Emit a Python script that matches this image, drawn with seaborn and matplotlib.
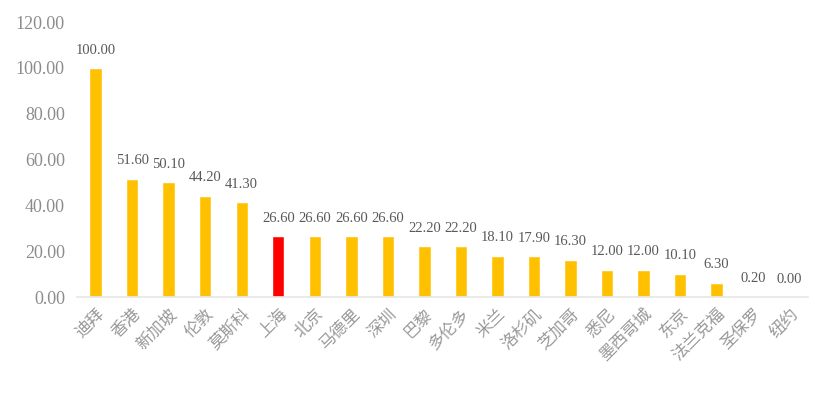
import seaborn as sns
import matplotlib.pyplot as plt
import pandas as pd

cities = ['迪拜', '香港', '新加坡', '伦敦', '莫斯科', '上海', '北京', '马德里', '深圳', '巴黎',
          '多伦多', '米兰', '洛杉矶', '芝加哥', '悉尼', '墨西哥城', '东京', '法兰克福', '圣保罗', '纽约']
scores = [100.00, 51.60, 50.10, 44.20, 41.30, 26.60, 26.60, 26.60, 26.60, 22.20,
          22.20, 18.10, 17.90, 16.30, 12.00, 12.00, 10.10, 6.30, 0.20, 0.00]
highlight = '上海'

df = pd.DataFrame({'city': cities, 'score': scores})
colors = ['#FF0000' if c == highlight else '#FFC000' for c in cities]

sns.set_style('white')
fig = plt.figure(figsize=(8.32, 3.96), dpi=100)
ax = fig.add_axes([0.093, 0.25, 0.878, 0.694])

sns.barplot(data=df, x='city', y='score', hue='city', palette=colors, legend=False,
            width=0.34, ax=ax, saturation=1)

ax.set_ylim(0, 120)
ax.set_yticks(range(0, 121, 20))
ax.set_yticklabels([f'{v:.2f}' for v in range(0, 121, 20)],
                   fontfamily='Liberation Serif', fontsize=13, color='#8c8c8c')
ax.set_xticks(range(len(cities)))
ax.set_xticklabels(cities, rotation=45, ha='right', rotation_mode='anchor',
                   fontfamily='Noto Sans CJK SC', fontweight='light',
                   fontsize=12, color='#999999')
ax.tick_params(axis='both', length=0)
ax.tick_params(axis='y', pad=9)
ax.tick_params(axis='x', pad=6)
ax.set_xlabel('')
ax.set_ylabel('')

for s in ['top', 'right', 'left']:
    ax.spines[s].set_visible(False)
ax.spines['bottom'].set_color('#e6e6e6')
ax.spines['bottom'].set_linewidth(1.2)

for i, v in enumerate(scores):
    ax.text(i, v + 5, f'{v:.2f}', ha='center', va='bottom',
            fontfamily='Liberation Serif', fontsize=10.5, color='#595959')

fig.savefig('out.png', dpi=100)
